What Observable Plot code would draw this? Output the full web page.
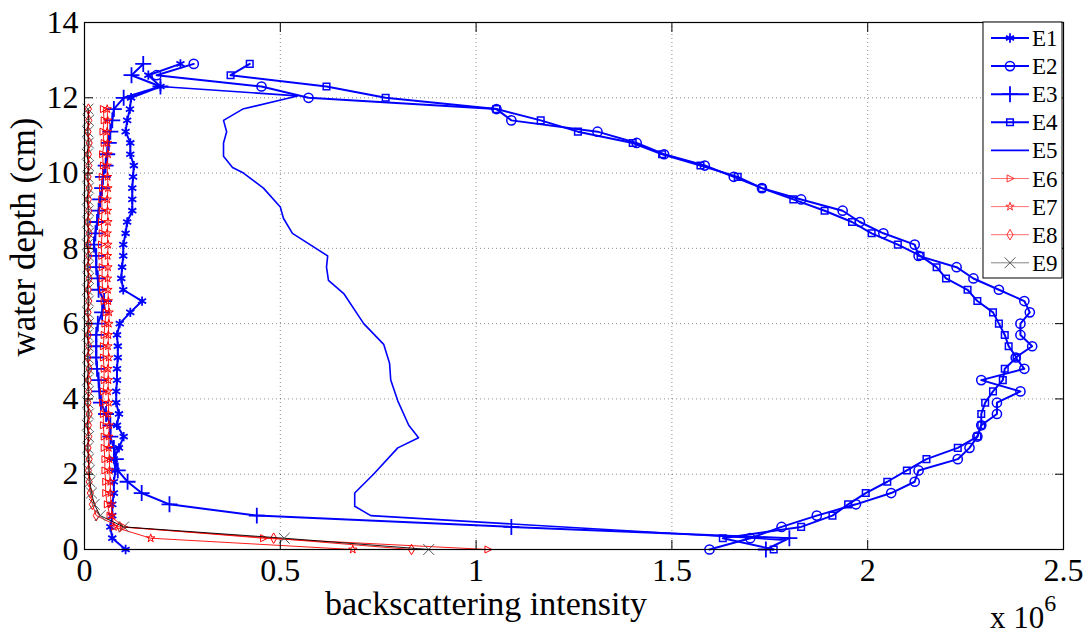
<!DOCTYPE html>
<html><head><meta charset="utf-8">
<script src="https://cdn.jsdelivr.net/npm/d3@7"></script>
<script src="https://cdn.jsdelivr.net/npm/@observablehq/plot@0.6"></script>
<style>body{margin:0;background:#fff;overflow:hidden}</style>
</head><body><div id="chart"></div>
<script>
// depth grids (cm)
const depthLong = [0,0.3,0.6,0.9,1.2,1.5,1.8,2.1,2.4,2.7,3,3.3,3.6,3.9,4.2,4.5,4.8,5.1,5.4,5.7,6,6.3,6.6,6.9,7.2,7.5,7.8,8.1,8.4,8.7,9,9.3,9.6,9.9,10.2,10.5,10.8,11.1,11.4,11.7,12,12.3,12.6,12.9];
const depthShort = [0,0.3,0.6,0.9,1.2,1.5,1.8,2.1,2.4,2.7,3,3.3,3.6,3.9,4.2,4.5,4.8,5.1,5.4,5.7,6,6.3,6.6,6.9,7.2,7.5,7.8,8.1,8.4,8.7,9,9.3,9.6,9.9,10.2,10.5,10.8,11.1,11.4,11.7];
const depthE5 = [12.3,12.05,11.7,11.4,11.1,10.8,10.45,10.15,10,9.6,9.1,8.8,8.4,7.8,7.5,7.15,6.8,6,5.45,4.95,4.5,3.95,3.3,2.97,2.7,2,1.5,1.15,0.9,0.25];

// backscattering intensity (x 10^6)
const E1 = [0.105,0.071,0.066,0.071,0.071,0.075,0.075,0.079,0.075,0.088,0.100,0.083,0.088,0.081,0.081,0.083,0.083,0.085,0.085,0.083,0.090,0.117,0.147,0.099,0.094,0.096,0.099,0.099,0.105,0.109,0.122,0.122,0.122,0.124,0.126,0.117,0.117,0.105,0.109,0.116,0.119,0.194,0.163,0.245];
const E2 = [1.596,1.70,1.78,1.87,1.97,2.06,2.12,2.13,2.23,2.26,2.28,2.29,2.33,2.33,2.39,2.29,2.40,2.378,2.42,2.39,2.39,2.414,2.40,2.335,2.27,2.227,2.13,2.12,2.04,1.98,1.936,1.83,1.73,1.658,1.584,1.48,1.41,1.31,1.09,1.052,0.572,0.452,0.184,0.279];
const E3 = [1.74,1.80,1.09,0.44,0.217,0.146,0.11,0.085,0.08,0.075,0.066,0.066,0.055,0.042,0.038,0.036,0.032,0.030,0.030,0.030,0.034,0.045,0.050,0.036,0.034,0.030,0.030,0.024,0.028,0.032,0.036,0.040,0.045,0.047,0.054,0.058,0.062,0.066,0.071,0.075,0.100,0.194,0.12,0.15];
const E4 = [1.76,1.63,1.83,1.91,1.95,1.995,2.05,2.10,2.15,2.23,2.28,2.29,2.29,2.30,2.32,2.345,2.35,2.38,2.36,2.35,2.335,2.32,2.28,2.255,2.20,2.176,2.135,2.077,2.01,1.96,1.89,1.81,1.73,1.668,1.573,1.475,1.40,1.26,1.165,1.052,0.769,0.618,0.373,0.422];
const E5 = [0.194,0.544,0.404,0.355,0.363,0.355,0.355,0.378,0.406,0.457,0.500,0.508,0.531,0.621,0.618,0.623,0.662,0.713,0.764,0.779,0.782,0.800,0.828,0.853,0.800,0.738,0.690,0.690,0.731,1.79];
const E6 = [1.03,0.457,0.10,0.065,0.058,0.054,0.054,0.052,0.052,0.050,0.050,0.048,0.048,0.046,0.048,0.050,0.050,0.048,0.048,0.050,0.052,0.055,0.050,0.046,0.045,0.045,0.044,0.043,0.045,0.043,0.045,0.044,0.046,0.045,0.048,0.046,0.050,0.047,0.050,0.048];
const E7 = [0.685,0.169,0.075,0.070,0.068,0.066,0.066,0.064,0.064,0.062,0.062,0.063,0.061,0.062,0.060,0.061,0.060,0.062,0.060,0.061,0.062,0.063,0.061,0.060,0.059,0.060,0.059,0.060,0.058,0.060,0.059,0.058,0.060,0.059,0.058,0.060,0.059,0.058,0.059,0.058];
const E8 = [0.835,0.483,0.090,0.030,0.020,0.015,0.012,0.010,0.012,0.009,0.011,0.010,0.012,0.009,0.011,0.010,0.012,0.009,0.011,0.010,0.012,0.009,0.011,0.010,0.012,0.009,0.011,0.010,0.012,0.009,0.011,0.010,0.012,0.009,0.011,0.010,0.012,0.009,0.011,0.010];
const E9 = [0.879,0.510,0.100,0.040,0.025,0.018,0.014,0.012,0.010,0.008,0.010,0.007,0.010,0.008,0.010,0.007,0.010,0.008,0.010,0.007,0.010,0.008,0.010,0.007,0.010,0.008,0.010,0.007,0.010,0.008,0.010,0.007,0.010,0.008,0.010,0.007,0.010,0.008,0.010,0.009];

const names = ["E1","E2","E3","E4","E5","E6","E7","E8","E9"];
const xTicks = [0,0.5,1,1.5,2,2.5];
const yTicks = [0,2,4,6,8,10,12,14];

// custom right-pointing triangle (MATLAB '>')
const triRight = {draw(ctx, size){ const r = Math.sqrt(size/Math.PI)*1.15; ctx.moveTo(r,0); ctx.lineTo(-r*0.7,-r*0.85); ctx.lineTo(-r*0.7,r*0.85); ctx.closePath(); }};

const series = [
  {name:"E1", depth:depthLong, value:E1, color:"#0000ff", lw:2, sym:"asterisk", r:4.4, mw:1.8},
  {name:"E2", depth:depthLong, value:E2, color:"#0000ff", lw:2, sym:"circle", r:4.6, mw:1.5},
  {name:"E3", depth:depthLong, value:E3, color:"#0000ff", lw:2, sym:"plus", r:5.2, mw:1.8},
  {name:"E4", depth:depthLong, value:E4, color:"#0000ff", lw:2, sym:"square2", r:4.2, mw:1.5},
  {name:"E5", depth:depthE5, value:E5, color:"#0000ff", lw:1.6, sym:null},
  {name:"E6", depth:depthShort, value:E6, color:"#ff0000", lw:0.9, sym:triRight, r:3.6, mw:1},
  {name:"E7", depth:depthShort, value:E7, color:"#ff0000", lw:0.9, sym:"star", r:2.6, mw:1},
  {name:"E8", depth:depthShort, value:E8, color:"#ff0000", lw:0.9, sym:"diamond", r:3.2, mw:1},
  {name:"E9", depth:depthShort, value:E9, color:"#000000", lw:0.9, sym:"times", r:5, mw:1, mcolor:"#555"}
];

const marks = [
  Plot.gridX(xTicks.slice(1,-1), {stroke:"#000", strokeOpacity:0.45, strokeDasharray:"1,3"}),
  Plot.gridY(yTicks.slice(1,-1), {stroke:"#000", strokeOpacity:0.45, strokeDasharray:"1,3"})
];
for (const s of series) {
  const rows = s.value.map((v,i) => ({v, d:s.depth[i]}));
  marks.push(Plot.line(rows, {x:"v", y:"d", stroke:s.color, strokeWidth:s.lw}));
  if (s.sym) marks.push(Plot.dot(rows, {x:"v", y:"d", symbol:()=>s.sym, r:s.r, stroke:s.mcolor||s.color, fill:"none", strokeWidth:s.mw}));
}
marks.push(
  Plot.frame({stroke:"#000", strokeWidth:1.2}),
  Plot.axisX(xTicks, {anchor:"bottom", tickSize:9, dy:-9, tickFormat:()=>"", label:null}),
  Plot.axisX(xTicks, {anchor:"top", tickSize:9, dy:9, tickFormat:()=>"", label:null}),
  Plot.axisY(yTicks, {anchor:"left", tickSize:9, dx:9, tickFormat:()=>"", label:null}),
  Plot.axisY(yTicks, {anchor:"right", tickSize:9, dx:-9, tickFormat:()=>"", label:null}),
  Plot.axisX(xTicks, {anchor:"bottom", tickSize:0, tickPadding:9, fontSize:32, tickFormat:d=>String(d), label:null}),
  Plot.axisY(yTicks, {anchor:"left", tickSize:0, tickPadding:6, fontSize:32, tickFormat:d=>String(d), label:null})
);

const chart = Plot.plot({
  width:1088, height:635,
  marginLeft:84, marginRight:25, marginTop:22, marginBottom:86,
  style:{fontFamily:"'Liberation Serif','Times New Roman',serif", background:"#fff", color:"#000", overflow:"visible"},
  x:{domain:[0,2.5]},
  y:{domain:[0,14]},
  symbol:{type:"identity"},
  marks
});
document.getElementById("chart").appendChild(chart);

// labels, multiplier and legend
const svg = d3.select(chart);
const ff = "'Liberation Serif','Times New Roman',serif";
svg.append("text").attr("x",486).attr("y",615).attr("text-anchor","middle").attr("font-family",ff).attr("font-size",34).attr("fill","#000").text("backscattering intensity");
svg.append("text").attr("transform","translate(35,237) rotate(-90)").attr("text-anchor","middle").attr("font-family",ff).attr("font-size",35).attr("fill","#000").text("water depth (cm)");
const mult = svg.append("text").attr("x",990).attr("y",628).attr("text-anchor","start").attr("font-family",ff).attr("font-size",31).attr("fill","#000");
mult.append("tspan").text("x 10");
mult.append("tspan").attr("dy",-17).attr("font-size",24).text("6");

const lg = svg.append("g");
lg.append("rect").attr("x",983).attr("y",22).attr("width",79).attr("height",256).attr("fill","#fff").attr("stroke","#000").attr("stroke-width",1);
const symMap = {asterisk:d3.symbolAsterisk, circle:d3.symbolCircle, plus:d3.symbolPlus, square2:d3.symbolSquare2, star:d3.symbolStar, diamond:d3.symbolDiamond, times:d3.symbolTimes};
series.forEach((s,i) => {
  const y = 38 + i*28.1;
  const lc = s.color === "#ff0000" ? "#ff6060" : (s.color === "#000000" ? "#777" : s.color);
  lg.append("line").attr("x1",991).attr("x2",1029).attr("y1",y).attr("y2",y).attr("stroke",lc).attr("stroke-width",s.lw);
  if (s.sym) {
    const type = typeof s.sym === "string" ? symMap[s.sym] : s.sym;
    lg.append("path").attr("transform",`translate(1010,${y})`).attr("d", d3.symbol(type, Math.PI*s.r*s.r)()).attr("fill","none").attr("stroke", s.name==="E9"?"#555":(s.color==="#ff0000"?"#ff3030":s.color)).attr("stroke-width",s.mw);
  }
  lg.append("text").attr("x",1032).attr("y",y+8).attr("text-anchor","start").attr("font-family",ff).attr("font-size",23).attr("fill","#000").text(s.name);
});
</script></body></html>
